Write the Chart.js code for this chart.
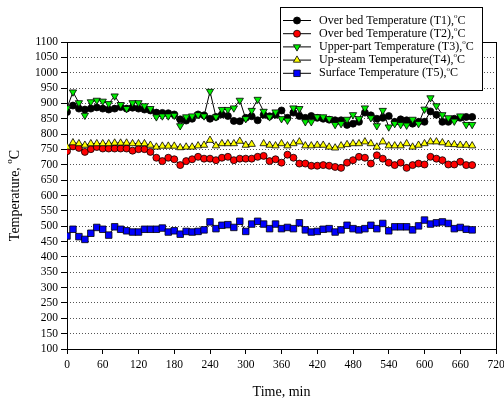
<!DOCTYPE html>
<html>
<head>
<meta charset="utf-8">
<script src="https://cdn.jsdelivr.net/npm/chart.js@4.4.0/dist/chart.umd.min.js"></script>
<style>
    body { margin: 0; background: #fff; }
</style>
</head>
<body>
<canvas id="grafico" width="504" height="403"></canvas>
<script>
// dados (tempo em min, temperatura em C)
var tempos = [0, 10, 20, 30, 40, 50, 60, 70, 80, 90, 100, 110, 120, 130, 140, 150, 160, 170, 180, 190,
    200, 210, 220, 230, 240, 250, 260, 270, 280, 290, 300, 310, 320, 330, 340, 350, 360, 370, 380, 390,
    400, 410, 420, 430, 440, 450, 460, 470, 480, 490, 500, 510, 520, 530, 540, 550, 560, 570, 580, 590,
    600, 610, 620, 630, 640, 650, 660, 670, 680];

var t1 = [872, 893, 883, 880, 883, 887, 883, 880, 883, 888, 883, 886, 883, 880, 877, 870, 869, 868, 864, 848,
    844, 850, 864, 861, 850, 856, 864, 859, 843, 842, 853, 858, 845, 863, 858, 863, 877, 853, 870, 859,
    853, 859, 853, 850, 847, 845, 845, 830, 834, 840, 870, 861, 850, 853, 859, 840, 848, 845, 834, 840,
    840, 874, 863, 840, 840, 850, 853, 856, 856];

var t2 = [744, 760, 755, 742, 751, 758, 753, 753, 753, 753, 753, 746, 751, 751, 742, 723, 712, 723, 718, 699,
    712, 718, 726, 720, 720, 715, 723, 726, 715, 720, 720, 720, 726, 729, 712, 718, 707, 733, 723, 704,
    704, 697, 697, 699, 697, 693, 690, 707, 715, 726, 723, 704, 731, 720, 707, 699, 707, 690, 699, 704,
    701, 726, 720, 715, 701, 701, 710, 699, 699];

var t3 = [885, 937, 902, 861, 905, 910, 907, 899, 924, 896, 883, 902, 902, 892, 883, 856, 859, 859, 861, 827,
    856, 859, 863, 859, 939, 856, 880, 880, 885, 910, 850, 877, 913, 874, 856, 872, 850, 845, 885, 883,
    840, 840, 856, 856, 850, 831, 834, 848, 863, 850, 885, 853, 827, 877, 823, 834, 831, 829, 848, 834,
    881, 918, 892, 863, 853, 842, 859, 831, 831];

var t4 = [758, 772, 769, 764, 769, 769, 769, 769, 771, 771, 771, 769, 769, 769, 764, 758, 761, 761, 761, 756,
    758, 758, 762, 764, 780, 762, 769, 769, 769, 777, 764, 767, null, 769, 764, 762, 769, 762, 769, 775,
    762, 762, 764, 764, 758, 755, 762, 766, 769, 769, 775, 769, 758, 775, 762, 762, 762, 769, 758, 764,
    769, 775, 775, 772, 767, 766, 764, 764, 762];

var t5 = [468, 490, 466, 457, 477, 496, 490, 471, 498, 490, 485, 481, 481, 490, 490, 490, 494, 481, 485, 474,
    483, 481, 483, 488, 514, 492, 503, 505, 496, 516, 483, 507, 516, 507, 492, 507, 492, 496, 492, 511,
    488, 481, 483, 490, 492, 481, 488, 503, 492, 488, 492, 503, 492, 509, 485, 498, 498, 498, 488, 501,
    520, 507, 511, 514, 509, 492, 496, 490, 488];

var nomesSeries = ["Over bed Temperature (T1),", "Over bed Temperature (T2),", "Upper-part Temperature (T3),",
    "Up-steam Temperature(T4),", "Surface Temperature (T5),"];
var ticksX = [0, 60, 120, 180, 240, 300, 360, 420, 480, 540, 600, 660, 720];

var fonteSerif = "'Liberation Serif', 'Times New Roman', serif";

function montarPontos(valores) {
    var pontos = [];
    for (var i in tempos) {
        pontos.push({ x: tempos[i], y: valores[i] });
    }
    return pontos;
}

function serie(indice, valores, cor, estilo, raio, rotacao, ordem) {
    return {
        label: nomesSeries[indice],
        data: montarPontos(valores),
        borderColor: '#000',
        borderWidth: 1,
        pointStyle: estilo,
        pointRadius: raio,
        pointRotation: rotacao,
        pointBackgroundColor: cor,
        pointBorderColor: '#000',
        pointBorderWidth: 0.8,
        spanGaps: false,
        order: ordem
    };
}

// escreve texto com o "o" sobrescrito antes do C
function textoGrau(ctx, antes, x, y, tamanho, centro) {
    ctx.font = tamanho + "px " + fonteSerif;
    var w1 = ctx.measureText(antes).width;
    var w3 = ctx.measureText("C").width;
    ctx.font = Math.round(tamanho * 0.62) + "px " + fonteSerif;
    var w2 = ctx.measureText("o").width;
    var x0 = centro ? x - (w1 + w2 + w3) / 2 : x;
    ctx.textAlign = 'left';
    ctx.textBaseline = 'middle';
    ctx.font = tamanho + "px " + fonteSerif;
    ctx.fillText(antes, x0, y);
    ctx.font = Math.round(tamanho * 0.62) + "px " + fonteSerif;
    ctx.fillText("o", x0 + w1, y - tamanho * 0.38);
    ctx.font = tamanho + "px " + fonteSerif;
    ctx.fillText("C", x0 + w1 + w2, y);
}

var moldura = {
    id: 'moldura',
    beforeDatasetsDraw: function (chart) {
        var ctx = chart.ctx;
        var a = chart.chartArea;
        ctx.save();
        ctx.setLineDash([]);
        ctx.strokeStyle = '#000';
        ctx.lineWidth = 1;
        ctx.strokeRect(Math.round(a.left) + 0.5, Math.round(a.top) + 0.5,
            Math.round(a.right - a.left), Math.round(a.bottom - a.top));
        ctx.restore();
    },
    afterDraw: function (chart) {
        var ctx = chart.ctx;
        var a = chart.chartArea;
        ctx.save();
        ctx.fillStyle = '#000';
        // titulos dos eixos
        ctx.font = "14px " + fonteSerif;
        ctx.textAlign = 'center';
        ctx.textBaseline = 'middle';
        ctx.fillText("Time, min", (a.left + a.right) / 2, 392);
        ctx.save();
        ctx.translate(15, (a.top + a.bottom) / 2);
        ctx.rotate(-Math.PI / 2);
        textoGrau(ctx, "Temperature, ", 0, 0, 14, true);
        ctx.restore();

        // legenda
        ctx.fillStyle = '#fff';
        ctx.fillRect(280.5, 7.5, 202, 83);
        ctx.strokeStyle = '#000';
        ctx.lineWidth = 1;
        ctx.strokeRect(280.5, 7.5, 202, 83);
        chart.data.datasets.forEach(function (ds, i) {
            var y = 20.5 + i * 13.2;
            ctx.strokeStyle = '#000';
            ctx.lineWidth = 1;
            ctx.beginPath();
            ctx.moveTo(283, y);
            ctx.lineTo(311, y);
            ctx.stroke();
            ctx.fillStyle = ds.pointBackgroundColor;
            ctx.lineWidth = 0.8;
            Chart.helpers.drawPoint(ctx, {
                pointStyle: ds.pointStyle,
                radius: ds.pointRadius,
                rotation: ds.pointRotation,
                borderWidth: 0.8
            }, 297, y);
            ctx.fillStyle = '#000';
            textoGrau(ctx, ds.label, 319, y, 12, false);
        });
        ctx.restore();
    }
};

var ctx = document.getElementById('grafico').getContext('2d');
new Chart(ctx, {
    type: 'line',
    data: {
        datasets: [
            serie(0, t1, '#000000', 'circle', 3.5, 0, 5),
            serie(1, t2, '#ff0000', 'circle', 3.5, 0, 4),
            serie(2, t3, '#00ee00', 'triangle', 4.2, 180, 3),
            serie(3, t4, '#ffff00', 'triangle', 4.2, 0, 2),
            serie(4, t5, '#0000ff', 'rect', 4.6, 0, 1)
        ]
    },
    options: {
        responsive: false,
        animation: false,
        devicePixelRatio: 1,
        layout: { padding: { top: 42, right: 8, bottom: 0, left: 0 } },
        plugins: {
            legend: { display: false },
            title: { display: false },
            tooltip: { enabled: false }
        },
        scales: {
            x: {
                type: 'linear',
                min: 0,
                max: 720,
                afterBuildTicks: function (scale) {
                    scale.ticks = ticksX.map(function (v) { return { value: v }; });
                },
                afterFit: function (scale) {
                    scale.height = 54;
                    scale.paddingLeft = 0;
                    scale.paddingRight = 0;
                },
                grid: {
                    drawOnChartArea: false,
                    drawTicks: true,
                    tickLength: 5,
                    tickColor: '#000'
                },
                border: { display: false },
                ticks: {
                    color: '#000',
                    padding: 4,
                    maxRotation: 0,
                    autoSkip: false,
                    font: { family: fonteSerif, size: 11.5 },
                    callback: function (v) { return String(v); }
                }
            },
            y: {
                min: 100,
                max: 1100,
                afterFit: function (scale) {
                    scale.width = 67;
                    scale.paddingTop = 0;
                    scale.paddingBottom = 0;
                },
                grid: {
                    color: '#555',
                    lineWidth: 1,
                    drawTicks: true,
                    tickLength: 6,
                    tickColor: '#000',
                    tickBorderDash: []
                },
                border: { display: false, dash: [1, 2] },
                ticks: {
                    stepSize: 50,
                    color: '#000',
                    padding: 3,
                    autoSkip: false,
                    font: { family: fonteSerif, size: 11.5 },
                    callback: function (v) { return String(v); }
                }
            }
        }
    },
    plugins: [moldura]
});
</script>
</body>
</html>
